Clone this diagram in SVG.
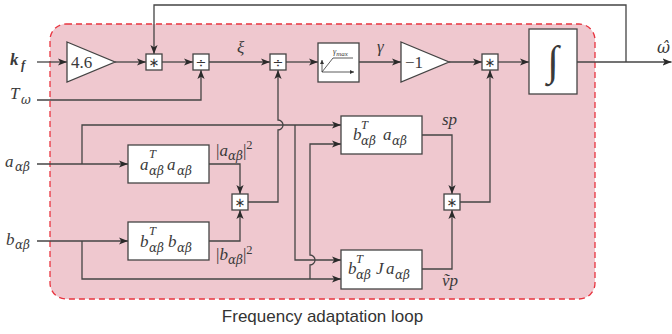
<svg xmlns="http://www.w3.org/2000/svg" width="672" height="334" viewBox="0 0 672 334">
<defs>
<style>
.w{stroke:#444;stroke-width:1.3;fill:none}
.a{marker-end:url(#ar)}
.bx{fill:#fff;stroke:#444;stroke-width:1.3}
.m{font-family:"Liberation Serif","DejaVu Serif",serif;font-style:italic;font-size:17px;fill:#3a3a3a}
.s{font-size:12.5px}
.g{font-family:"DejaVu Serif","Liberation Serif",serif;font-size:12px}
.u{font-style:normal}
.op{font-family:"DejaVu Sans",sans-serif;font-size:13px;fill:#333;text-anchor:middle}
.t{font-family:"Liberation Sans","Open Sans",sans-serif;font-size:17px;fill:#333;text-anchor:middle}
</style>
<marker id="ar" viewBox="0 0 10 8" refX="10" refY="4" markerWidth="9" markerHeight="7.5" markerUnits="userSpaceOnUse" orient="auto">
<path d="M0,0 L10,4 L0,8 L2.5,4 z" fill="#2a2a2a"/>
</marker>
<marker id="sa" viewBox="0 0 6 6" refX="6" refY="3" markerWidth="4" markerHeight="4" markerUnits="userSpaceOnUse" orient="auto">
<path d="M0,0 L6,3 L0,6 z" fill="#333"/>
</marker>
</defs>

<g id="region">
<rect x="50" y="24" width="545" height="275" rx="16" fill="#efc8cf" stroke="#e8343f" stroke-width="1.3" stroke-dasharray="6,4"/>
<text class="t" x="322.5" y="322">Frequency adaptation loop</text>
</g>

<g id="connectors">
<path class="w a" d="M37,62 H67"/>
<path class="w a" d="M115,62 H146"/>
<path class="w a" d="M577,62 H671.5"/>
<path class="w a" d="M626,62 V5 H154 V54"/>
<path class="w a" d="M162,62 H193"/>
<path class="w a" d="M37,100 H201 V70"/>
<path class="w a" d="M209,62 H270"/>
<path class="w a" d="M286,62 H318"/>
<path class="w a" d="M359,62 H401"/>
<path class="w a" d="M449,62 H482"/>
<path class="w a" d="M498,62 H529"/>
<path class="w a" d="M37,164 H128"/>
<path class="w a" d="M82,164 V125 H341"/>
<path class="w a" d="M295,125 V260 H341"/>
<path class="w a" d="M209,164 H240 V194"/>
<path class="w a" d="M37,241 H128"/>
<path class="w a" d="M209,241 H240 V210"/>
<path class="w a" d="M82,241 V279 H341"/>
<path class="w a" d="M310,279 V265 A5,5 0 0 0 310,255 V144 H341"/>
<path class="w a" d="M248,202 H278 V130 A5,5 0 0 0 278,120 V70"/>
<path class="w a" d="M422,135 H452 V194"/>
<path class="w a" d="M422,269 H452 V210"/>
<path class="w a" d="M460,202 H490 V70"/>
</g>

<g id="inputs">
<text class="m" x="10" y="65" style="font-weight:bold">k<tspan class="s" x="21" y="69">f</tspan></text>
<text class="m" x="10" y="99">T<tspan class="g" x="21" y="104">ω</tspan></text>
<text class="m" x="5" y="167">a<tspan class="g" x="15" y="171">αβ</tspan></text>
<text class="m" x="6" y="245">b<tspan class="g" x="15" y="249">αβ</tspan></text>
<text class="m" x="657" y="53" style="font-family:'DejaVu Serif',serif;font-size:16px">ω̂</text>
</g>

<g id="gain46">
<polygon class="bx" points="67,42 115,62 67,82"/>
<text class="m u" x="71" y="68">4.6</text>
</g>

<g id="mul1">
<rect class="bx" x="146" y="54" width="16" height="16"/>
<text class="op" x="154" y="67">∗</text>
</g>

<g id="div1">
<rect class="bx" x="193" y="54" width="16" height="16"/>
<text class="op" x="201" y="67">÷</text>
</g>
<text class="m" x="237" y="53">ξ</text>

<g id="div2">
<rect class="bx" x="270" y="54" width="16" height="16"/>
<text class="op" x="278" y="67">÷</text>
</g>

<g id="sat">
<rect class="bx" x="318" y="43" width="41" height="39"/>
<path d="M322,72 V60" stroke="#333" stroke-width="0.8" fill="none" marker-end="url(#sa)"/>
<path d="M322,72 H354" stroke="#333" stroke-width="0.8" fill="none" marker-end="url(#sa)"/>
<path d="M322,72 L333,58 H353" stroke="#333" stroke-width="0.8" fill="none"/>
<text class="m" x="333" y="54" style="font-size:8px">γ<tspan dy="1.5" style="font-size:7px">max</tspan></text>
</g>
<text class="m" x="377" y="52">γ</text>

<g id="gainm1">
<polygon class="bx" points="401,42 449,62 401,82"/>
<text class="m u" x="405" y="68">−1</text>
</g>

<g id="mul4">
<rect class="bx" x="482" y="54" width="16" height="16"/>
<text class="op" x="490" y="67">∗</text>
</g>

<g id="integrator">
<rect class="bx" x="529" y="29" width="48" height="65"/>
<text class="m u" x="553" y="75" style="font-size:42px" text-anchor="middle">∫</text>
</g>

<g id="aTa">
<rect class="bx" x="128" y="145" width="81" height="38"/>
<text class="m" x="140" y="170">a</text>
<text class="m s" x="149" y="158">T</text>
<text class="m g" x="149" y="175">αβ</text>
<text class="m" x="167" y="170">a</text>
<text class="m g" x="177" y="175">αβ</text>
</g>
<text class="m" x="216" y="156"><tspan class="u">|</tspan>a<tspan class="g" y="160">αβ</tspan><tspan class="u" y="156">|</tspan><tspan class="u s" y="149">2</tspan></text>

<g id="bTb">
<rect class="bx" x="128" y="222" width="81" height="38"/>
<text class="m" x="140" y="247">b</text>
<text class="m s" x="149" y="235">T</text>
<text class="m g" x="149" y="252">αβ</text>
<text class="m" x="168" y="247">b</text>
<text class="m g" x="177" y="252">αβ</text>
</g>
<text class="m" x="216" y="260"><tspan class="u">|</tspan>b<tspan class="g" y="264">αβ</tspan><tspan class="u" y="260">|</tspan><tspan class="u s" y="254">2</tspan></text>

<g id="mul2">
<rect class="bx" x="232" y="194" width="16" height="16"/>
<text class="op" x="240" y="207">∗</text>
</g>

<g id="bTa">
<rect class="bx" x="341" y="116" width="81" height="38"/>
<text class="m" x="353" y="140">b</text>
<text class="m s" x="361" y="129">T</text>
<text class="m g" x="361" y="145">αβ</text>
<text class="m" x="383" y="140">a</text>
<text class="m g" x="392" y="145">αβ</text>
</g>
<text class="m" x="442" y="125">sp</text>

<g id="bTJa">
<rect class="bx" x="341" y="250" width="81" height="39"/>
<text class="m" x="348" y="274">b</text>
<text class="m s" x="356" y="263">T</text>
<text class="m g" x="356" y="279">αβ</text>
<text class="m" x="376" y="274">J</text>
<text class="m" x="386" y="274">a</text>
<text class="m g" x="395" y="279">αβ</text>
</g>
<text class="m" x="442" y="286">ṽp</text>

<g id="mul3">
<rect class="bx" x="444" y="194" width="16" height="16"/>
<text class="op" x="452" y="207">∗</text>
</g>
</svg>
